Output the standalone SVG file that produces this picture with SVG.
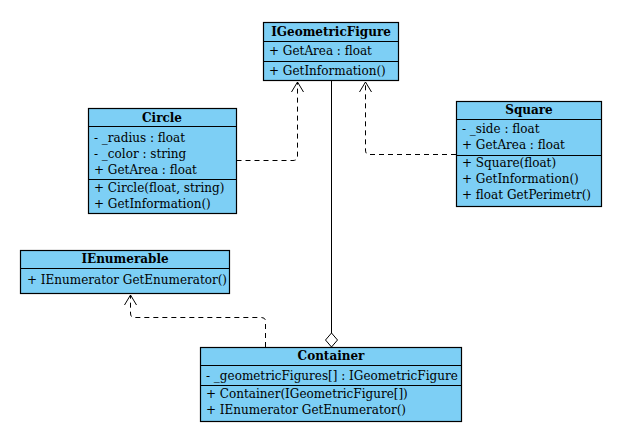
<svg xmlns="http://www.w3.org/2000/svg" width="618" height="439" viewBox="0 0 618 439">
<defs>
<style>
.box{fill:#7dcff5;stroke:#000;stroke-width:1.2}
.ln{stroke:#000;stroke-width:1.2}
text{font-family:"DejaVu Serif",serif;font-size:12px;fill:#000}
.t{font-weight:bold;text-anchor:middle}
.d{fill:none;stroke:#000;stroke-width:1;stroke-dasharray:5,4}
.s{fill:none;stroke:#000;stroke-width:1}
</style>
</defs>
<rect width="618" height="439" fill="#fff"/>
<g id="connectors">
<path class="d" d="M236.5,160.5 H293 Q297.5,160.5 297.5,156 V82"/>
<path class="d" d="M456,154.5 H369 Q365.5,154.5 365.5,150 V82"/>
<path class="d" d="M265.5,347 V321 Q265.5,317.5 261,317.5 H134 Q130.5,317.5 130.5,313 V295"/>
<path class="s" d="M331.5,80 V333"/>
<path d="M331.5,333 L337.5,340 L331.5,347 L325.5,340 Z" fill="#fff" stroke="#000"/>
<path class="s" d="M291.5,92 L297.5,82 L303.5,92"/>
<path class="s" d="M359.5,92 L365.5,82 L371.5,92"/>
<path class="s" d="M124.5,305 L130.5,295 L136.5,305"/>
</g>
<g id="IGeometricFigure">
<rect class="box" x="263.5" y="22.5" width="135" height="58"/>
<line class="ln" x1="263.5" y1="41.5" x2="398.5" y2="41.5"/>
<line class="ln" x1="263.5" y1="61.5" x2="398.5" y2="61.5"/>
<text class="t" x="331" y="36">IGeometricFigure</text>
<text x="269" y="55">+ GetArea : float</text>
<text x="269" y="75">+ GetInformation()</text>
</g>
<g id="Circle">
<rect class="box" x="88.5" y="108.5" width="148" height="105"/>
<line class="ln" x1="88.5" y1="126.5" x2="236.5" y2="126.5"/>
<line class="ln" x1="88.5" y1="179.5" x2="236.5" y2="179.5"/>
<text class="t" x="162" y="122">Circle</text>
<text x="94" y="142">- _radius : float</text>
<text x="94" y="158">- _color : string</text>
<text x="94" y="174">+ GetArea : float</text>
<text x="94" y="192">+ Circle(float, string)</text>
<text x="94" y="208">+ GetInformation()</text>
</g>
<g id="Square">
<rect class="box" x="456.5" y="101.5" width="145" height="105"/>
<line class="ln" x1="456.5" y1="119.5" x2="601.5" y2="119.5"/>
<line class="ln" x1="456.5" y1="155.5" x2="601.5" y2="155.5"/>
<text class="t" x="529" y="114">Square</text>
<text x="462" y="133">- _side : float</text>
<text x="462" y="149">+ GetArea : float</text>
<text x="462" y="167">+ Square(float)</text>
<text x="462" y="183">+ GetInformation()</text>
<text x="462" y="199">+ float GetPerimetr()</text>
</g>
<g id="IEnumerable">
<rect class="box" x="20.5" y="250.5" width="209" height="43"/>
<line class="ln" x1="20.5" y1="268.5" x2="229.5" y2="268.5"/>
<text class="t" x="125" y="263">IEnumerable</text>
<text x="27" y="284">+ IEnumerator GetEnumerator()</text>
</g>
<g id="Container">
<rect class="box" x="200.5" y="347.5" width="261" height="74"/>
<line class="ln" x1="200.5" y1="365.5" x2="461.5" y2="365.5"/>
<line class="ln" x1="200.5" y1="385.5" x2="461.5" y2="385.5"/>
<text class="t" x="331" y="360">Container</text>
<text x="206" y="380">- _geometricFigures[] : IGeometricFigure</text>
<text x="206" y="398">+ Container(IGeometricFigure[])</text>
<text x="206" y="414">+ IEnumerator GetEnumerator()</text>
</g>
</svg>
